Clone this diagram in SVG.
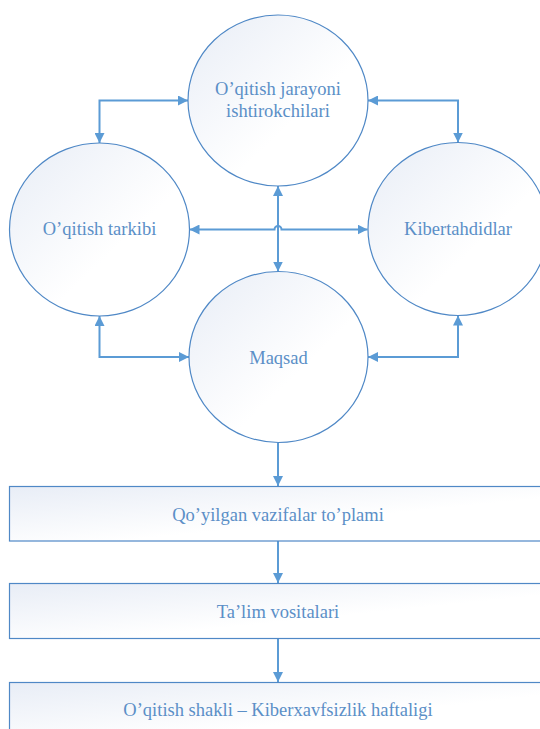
<svg xmlns="http://www.w3.org/2000/svg" width="540" height="729" viewBox="0 0 540 729">
<defs>
<linearGradient id="g" x1="0" y1="0" x2="1" y2="1">
<stop offset="0" stop-color="#e8edf6"/>
<stop offset="0.6" stop-color="#ffffff"/>
</linearGradient>
<marker id="ah" viewBox="0 0 10 10" refX="10" refY="5" markerWidth="10" markerHeight="10" markerUnits="userSpaceOnUse" orient="auto-start-reverse">
<path d="M0,0 L10,5 L0,10 z" fill="#5b9bd5"/>
</marker>
<style>
.n{fill:url(#g);stroke:#4f88c6;stroke-width:1.2}
.t{font-family:"Liberation Serif","Times New Roman",serif;font-size:18.5px;fill:#5b8fc7;text-anchor:middle}
.c{fill:none;stroke:#5b9bd5;stroke-width:2}
</style>
</defs>
<rect width="540" height="729" fill="#ffffff"/>
<g id="connectors">
<path class="c" d="M99.5,143 V100.5 H188" marker-start="url(#ah)" marker-end="url(#ah)"/>
<path class="c" d="M368,100.5 H458 V142.5" marker-start="url(#ah)" marker-end="url(#ah)"/>
<path class="c" d="M99.5,316 V357 H189" marker-start="url(#ah)" marker-end="url(#ah)"/>
<path class="c" d="M458,315.5 V357 H368" marker-start="url(#ah)" marker-end="url(#ah)"/>
<path class="c" d="M278,186 V271.5" marker-start="url(#ah)" marker-end="url(#ah)"/>
<path class="c" d="M189.5,229.5 H274.5 A3.5,3.5 0 0 1 281.5,229.5 H367.5" marker-start="url(#ah)" marker-end="url(#ah)"/>
<path class="c" d="M278,442.5 V486" marker-end="url(#ah)"/>
<path class="c" d="M278,541 V583" marker-end="url(#ah)"/>
<path class="c" d="M278,638.5 V682" marker-end="url(#ah)"/>
</g>
<g id="node-ishtirokchilar">
<ellipse class="n" cx="278" cy="100.5" rx="90" ry="85.5"/>
<text class="t" x="278" y="95">O’qitish jarayoni</text>
<text class="t" x="278" y="117">ishtirokchilari</text>
</g>
<g id="node-tarkib">
<ellipse class="n" cx="99.5" cy="229.5" rx="90" ry="86.5"/>
<text class="t" x="99.5" y="235">O’qitish tarkibi</text>
</g>
<g id="node-kibertahdid">
<ellipse class="n" cx="458" cy="229" rx="90" ry="86.5"/>
<text class="t" x="458" y="235">Kibertahdidlar</text>
</g>
<g id="node-maqsad">
<ellipse class="n" cx="278.5" cy="357" rx="89.5" ry="85.5"/>
<text class="t" x="278.5" y="364">Maqsad</text>
</g>
<g id="node-vazifalar">
<rect class="n" x="9.5" y="486.5" width="540" height="54.5"/>
<text class="t" x="278" y="521">Qo’yilgan vazifalar to’plami</text>
</g>
<g id="node-vositalar">
<rect class="n" x="9.5" y="583.5" width="540" height="55"/>
<text class="t" x="278" y="618">Ta’lim vositalari</text>
</g>
<g id="node-shakl">
<rect class="n" x="9.5" y="682.5" width="540" height="60"/>
<text class="t" x="278" y="716">O’qitish shakli – Kiberxavfsizlik haftaligi</text>
</g>
</svg>
